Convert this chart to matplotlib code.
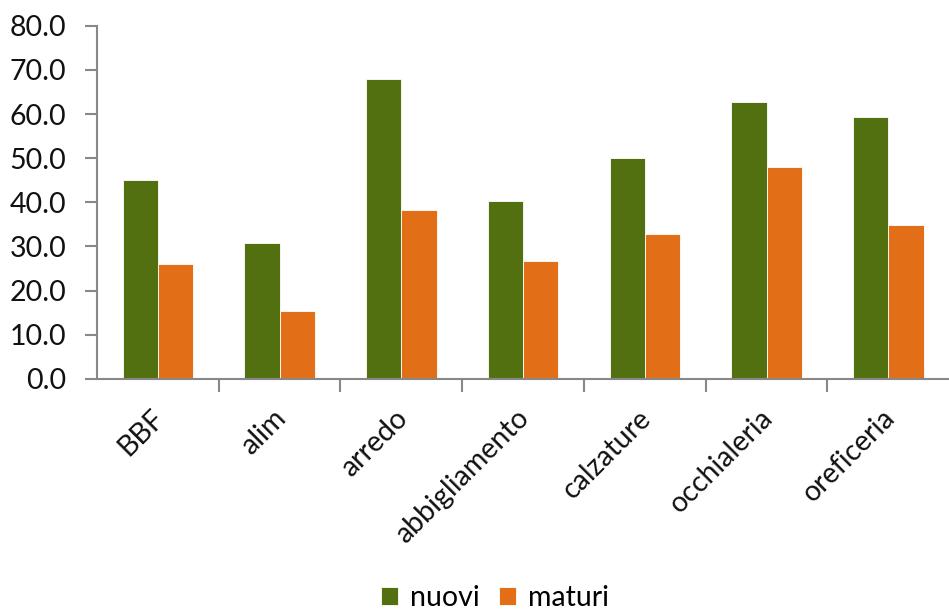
import matplotlib
matplotlib.use("Agg")
import matplotlib.pyplot as plt
import matplotlib.transforms as mtransforms
import numpy as np
from matplotlib.ticker import FixedLocator

categories = ["BBF", "alim", "arredo", "abbigliamento", "calzature", "occhialeria", "oreficeria"]
nuovi = [45.0, 30.7, 67.9, 40.3, 50.0, 62.8, 59.3]
maturi = [26.1, 15.4, 38.3, 26.6, 32.8, 48.0, 34.8]
series_names = ["nuovi", "maturi"]
yticks = [0, 10, 20, 30, 40, 50, 60, 70, 80]

plt.rcParams['font.family'] = ['Lato', 'DejaVu Sans']
plt.rcParams['font.weight'] = 'normal'

fig = plt.figure(figsize=(9.49, 6.13), dpi=100)
ax = fig.add_axes([0.1022, 0.382, 0.898, 0.576])

x = np.arange(len(categories))
w = 0.29
green = "#52700F"
orange = "#E26E18"
ax.bar(x - w/2, nuovi, w, color=green, edgecolor="white", linewidth=0.6, label=series_names[0])
ax.bar(x + w/2, maturi, w, color=orange, edgecolor="white", linewidth=0.6, label=series_names[1])

ax.set_xlim(-0.5, len(categories) - 0.5)
ax.set_ylim(0, 80)
ax.set_yticks(yticks)
ax.set_yticklabels([f"{v:.1f}" for v in yticks])

ax.set_xticks(x)
ax.set_xticklabels([])
offset = mtransforms.ScaledTranslation(-7/100, -26/100, fig.dpi_scale_trans)
trans = ax.get_xaxis_transform() + offset
for xi, cat in zip(x, categories):
    ax.text(xi, 0, cat, transform=trans, rotation=45, ha="right", va="top",
            rotation_mode="anchor", fontsize=20.5, color="#111111", clip_on=False)

ax.xaxis.set_minor_locator(FixedLocator(np.arange(0.5, len(categories) - 0.5, 1.0)))
ax.tick_params(axis="x", which="major", length=0)
ax.tick_params(axis="x", which="minor", length=9, width=1.5, color="#888888", direction="out")
ax.tick_params(axis="y", which="major", length=9, width=1.5, color="#888888", labelsize=20.5,
               labelcolor="#111111", pad=13)

for s in ["top", "right"]:
    ax.spines[s].set_visible(False)
for s in ["left", "bottom"]:
    ax.spines[s].set_color("#888888")
    ax.spines[s].set_linewidth(1.5)

leg = fig.legend(loc="lower center", bbox_to_anchor=(0.5216, -0.038), ncol=2, frameon=False,
                 fontsize=20.5, handlelength=0.6, handleheight=0.6, handletextpad=0.4,
                 columnspacing=0.7)

fig.savefig("out.png", dpi=100)
